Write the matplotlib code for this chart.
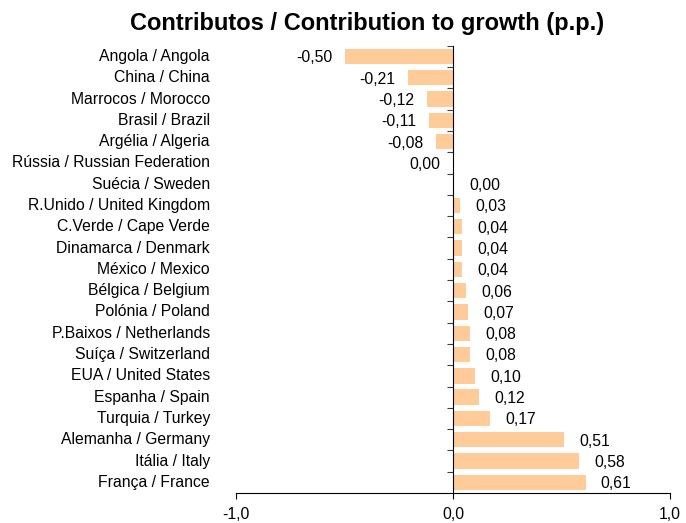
import numpy as np
import matplotlib
matplotlib.use('Agg')
import matplotlib.pyplot as plt

plt.rcParams['font.family'] = ['Liberation Sans', 'DejaVu Sans']

# dados
countries = ['Angola / Angola', 'China / China', 'Marrocos / Morocco', 'Brasil / Brazil',
             'Argélia / Algeria', 'Rússia / Russian Federation', 'Suécia / Sweden',
             'R.Unido / United Kingdom', 'C.Verde / Cape Verde', 'Dinamarca / Denmark',
             'México / Mexico', 'Bélgica / Belgium', 'Polónia / Poland',
             'P.Baixos / Netherlands', 'Suíça / Switzerland', 'EUA / United States',
             'Espanha / Spain', 'Turquia / Turkey', 'Alemanha / Germany',
             'Itália / Italy', 'França / France']
values = [-0.50, -0.21, -0.12, -0.11, -0.08, -0.001, 0.004, 0.03, 0.04, 0.04,
          0.04, 0.06, 0.07, 0.08, 0.08, 0.10, 0.12, 0.17, 0.51, 0.58, 0.61]
xticks = [-1.0, 0.0, 1.0]
xtick_labels = ['-1,0', '0,0', '1,0']

fs = 11.3


def fmt(v):
    if round(v, 2) == 0:
        return '0,00'
    return '{:.2f}'.format(v).replace('.', ',')


fig = plt.figure(figsize=(6.86, 5.23), dpi=100)
ax = fig.add_axes([0.344, 0.0574, 0.633, 0.855])

y = np.arange(len(countries))
ax.barh(y, values, height=0.72, color='#FFCC99', zorder=2)

for yi, v in zip(y, values):
    if v < 0:
        ax.annotate(fmt(v), (v, yi), xytext=(-9, -1), textcoords='offset points',
                    ha='right', va='center', fontsize=fs)
    else:
        ax.annotate(fmt(v), (v, yi), xytext=(11, -1), textcoords='offset points',
                    ha='left', va='center', fontsize=fs)

for yi, name in zip(y, countries):
    ax.text(-0.06, yi, name, transform=ax.get_yaxis_transform(),
            ha='right', va='center', fontsize=fs)

ax.set_xlim(-1, 1)
ax.set_ylim(len(countries) - 0.5, -0.5)

ax.spines['top'].set_visible(False)
ax.spines['right'].set_visible(False)
ax.spines['left'].set_position(('data', 0))
ax.spines['left'].set_zorder(3)

ax.set_yticks(np.arange(len(countries)) - 0.5)
ax.set_yticklabels([])
ax.tick_params(axis='y', direction='out', length=4, color='#404040')

ax.set_xticks(xticks)
ax.set_xticklabels(xtick_labels, fontsize=fs)
ax.tick_params(axis='x', direction='out', length=4, pad=6)

fig.text(0.535, 0.956, 'Contributos / Contribution to growth (p.p.)',
         ha='center', va='center', fontsize=17, fontweight='bold')

plt.savefig('out.png', dpi=100)
